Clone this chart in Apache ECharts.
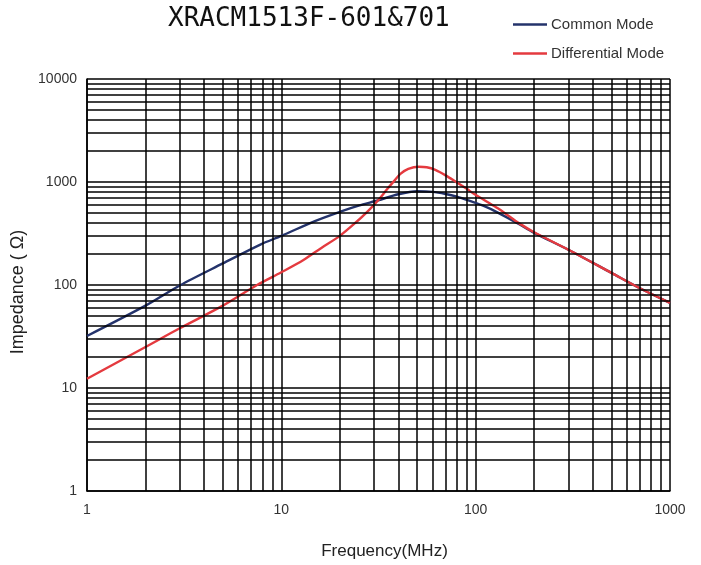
<!DOCTYPE html>
<html>
<head>
<meta charset="utf-8">
<script src="https://cdn.jsdelivr.net/npm/echarts@6/dist/echarts.min.js"></script>
<style>
html,body{margin:0;padding:0;background:#fff;}
#chart{width:701px;height:565px;}
</style>
</head>
<body>
<div id="chart"></div>
<script>
const titleText = "XRACM1513F-601&701";
const seriesNames = ["Common Mode", "Differential Mode"];
const xTickLabels = [1, 10, 100, 1000];
const yTickLabels = [1, 10, 100, 1000, 10000];
const xMinorLines = [2,3,4,5,6,7,8,9,20,30,40,50,60,70,80,90,200,300,400,500,600,700,800,900];
const yMinorLines = [2,3,4,5,6,7,8,9,20,30,40,50,60,70,80,90,200,300,400,500,600,700,800,900,2000,3000,4000,5000,6000,7000,8000,9000];

const commonFreq = [1, 2, 3, 5, 7.8, 10, 15, 20.5, 25, 31.5, 40, 50, 60, 70, 80, 94, 110, 130, 163, 200, 300, 500, 700, 1000];
const commonZ    = [32, 63, 99, 162, 247, 300, 420, 522, 590, 665, 760, 812, 802, 765, 720, 651, 585, 505, 401, 321, 220, 131, 93, 67];

const diffFreq = [1, 2, 3, 5, 7.5, 10, 13, 16, 20, 24, 28, 31.5, 35, 38, 41, 45, 51, 56, 62, 70, 80, 90, 97, 115, 130, 150, 170, 200, 300, 500, 700, 1000];
const diffZ    = [12.3, 25, 38, 63, 100, 133, 175, 228, 300, 400, 525, 665, 850, 1020, 1200, 1340, 1407, 1390, 1310, 1160, 990, 860, 776, 640, 555, 460, 390, 325, 220, 131, 93, 67];

const chart = echarts.init(document.getElementById('chart'));
const gridLineStyle = {color: '#000', width: 1.5, type: 'solid'};
chart.setOption({
  animation: false,
  backgroundColor: '#fff',
  title: {
    text: titleText,
    left: 163, top: 1,
    textStyle: {fontFamily: 'DejaVu Sans Mono', fontSize: 26, fontWeight: 'normal', color: '#111'}
  },
  legend: {
    orient: 'vertical',
    left: 508, top: 12,
    itemWidth: 34, itemHeight: 2.5, itemGap: 14,
    icon: 'rect',
    textStyle: {fontFamily: 'Liberation Sans', fontSize: 15, color: '#333', padding: [0, 0, 0, -1]},
    data: seriesNames
  },
  grid: {left: 87, right: 31, top: 79, bottom: 68, containLabel: false},
  xAxis: {
    type: 'log', logBase: 10, min: 1, max: 1000,
    name: 'Frequency(MHz)', nameLocation: 'middle', nameGap: 52,
    nameTextStyle: {fontFamily: 'Liberation Sans', fontSize: 17, color: '#222', padding: [0, 0, 0, 12]},
    axisLine: {lineStyle: {color: '#000', width: 1.5}},
    axisTick: {show: false},
    axisLabel: {fontFamily: 'Liberation Sans', fontSize: 14, color: '#333', margin: 12,
      formatter: v => xTickLabels.includes(Math.round(v)) ? String(Math.round(v)) : ''},
    splitLine: {show: true, lineStyle: gridLineStyle}
  },
  yAxis: {
    type: 'log', logBase: 10, min: 1, max: 10000,
    name: 'Impedance ( Ω)', nameLocation: 'middle', nameGap: 57, nameRotate: 90,
    nameTextStyle: {fontFamily: 'Liberation Sans', fontSize: 18, color: '#222', padding: [0, 14, 0, 0]},
    axisLine: {lineStyle: {color: '#000', width: 1.5}},
    axisTick: {show: false},
    axisLabel: {fontFamily: 'Liberation Sans', fontSize: 14, color: '#333', margin: 10,
      formatter: v => yTickLabels.includes(Math.round(v)) ? String(Math.round(v)) : ''},
    splitLine: {show: true, lineStyle: gridLineStyle}
  },
  series: [
    {
      name: 'minor-grid', type: 'line', data: [], silent: true, z: 1,
      markLine: {
        silent: true, symbol: ['none', 'none'], animation: false,
        label: {show: false},
        lineStyle: gridLineStyle,
        emphasis: {disabled: true},
        data: xMinorLines.map(v => ({xAxis: v})).concat(yMinorLines.map(v => ({yAxis: v})))
      }
    },
    {
      name: seriesNames[0], type: 'line', smooth: 0.3, showSymbol: false, z: 3,
      color: '#24336b',
      lineStyle: {width: 2.4, color: '#24336b'},
      data: commonFreq.map((f, i) => [f, commonZ[i]])
    },
    {
      name: seriesNames[1], type: 'line', smooth: 0.3, showSymbol: false, z: 4,
      color: '#e43a3f',
      lineStyle: {width: 2.4, color: '#e43a3f'},
      data: diffFreq.map((f, i) => [f, diffZ[i]])
    }
  ]
});
</script>
</body>
</html>
